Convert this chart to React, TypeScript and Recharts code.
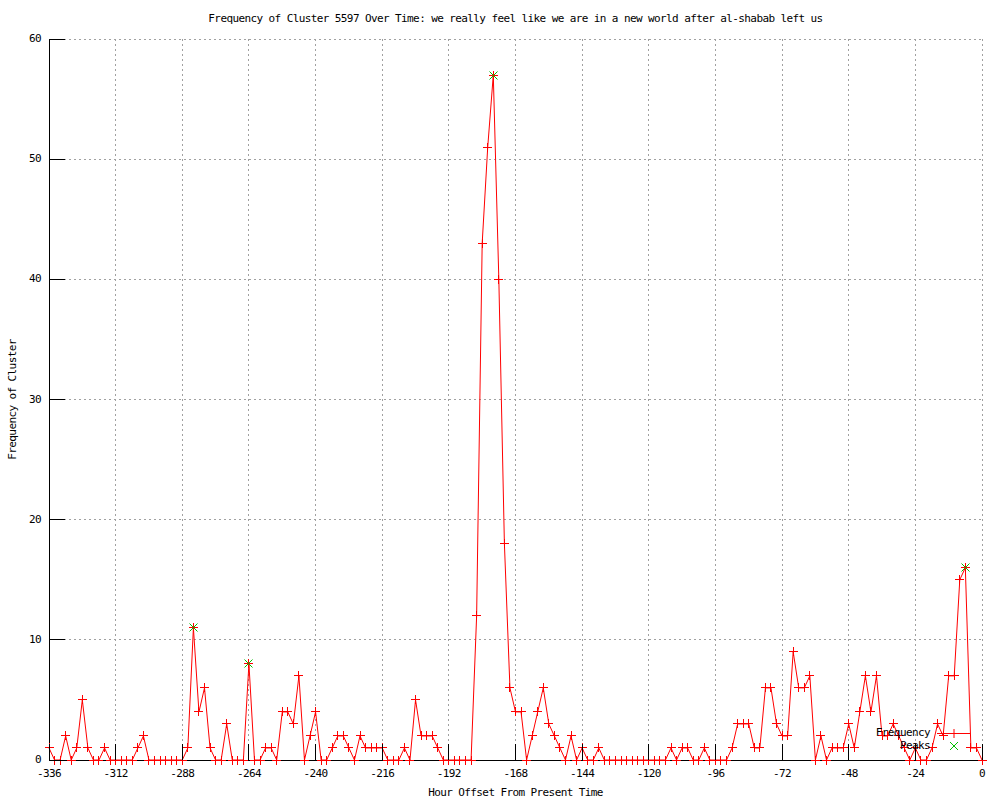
import React from "react";
import { LineChart, Line, XAxis, YAxis, CartesianGrid, Legend } from "recharts";

// hour offsets, one sample every 2 hours
const hours = [
  -336, -334, -332, -330, -328, -326, -324, -322, -320, -318, -316, -314,
  -312, -310, -308, -306, -304, -302, -300, -298, -296, -294, -292, -290,
  -288, -286, -284, -282, -280, -278, -276, -274, -272, -270, -268, -266,
  -264, -262, -260, -258, -256, -254, -252, -250, -248, -246, -244, -242,
  -240, -238, -236, -234, -232, -230, -228, -226, -224, -222, -220, -218,
  -216, -214, -212, -210, -208, -206, -204, -202, -200, -198, -196, -194,
  -192, -190, -188, -186, -184, -182, -180, -178, -176, -174, -172, -170,
  -168, -166, -164, -162, -160, -158, -156, -154, -152, -150, -148, -146,
  -144, -142, -140, -138, -136, -134, -132, -130, -128, -126, -124, -122,
  -120, -118, -116, -114, -112, -110, -108, -106, -104, -102, -100, -98,
  -96, -94, -92, -90, -88, -86, -84, -82, -80, -78, -76, -74,
  -72, -70, -68, -66, -64, -62, -60, -58, -56, -54, -52, -50,
  -48, -46, -44, -42, -40, -38, -36, -34, -32, -30, -28, -26,
  -24, -22, -20, -18, -16, -14, -12, -10, -8, -6, -4, -2,
  0,
];

const frequency = [
  1, 0, 0, 2, 0, 1, 5, 1, 0, 0, 1, 0,
  0, 0, 0, 0, 1, 2, 0, 0, 0, 0, 0, 0,
  0, 1, 11, 4, 6, 1, 0, 0, 3, 0, 0, 0,
  8, 0, 0, 1, 1, 0, 4, 4, 3, 7, 0, 2,
  4, 0, 0, 1, 2, 2, 1, 0, 2, 1, 1, 1,
  1, 0, 0, 0, 1, 0, 5, 2, 2, 2, 1, 0,
  0, 0, 0, 0, 0, 12, 43, 51, 57, 40, 18, 6,
  4, 4, 0, 2, 4, 6, 3, 2, 1, 0, 2, 0,
  1, 0, 0, 1, 0, 0, 0, 0, 0, 0, 0, 0,
  0, 0, 0, 0, 1, 0, 1, 1, 0, 0, 1, 0,
  0, 0, 0, 1, 3, 3, 3, 1, 1, 6, 6, 3,
  2, 2, 9, 6, 6, 7, 0, 2, 0, 1, 1, 1,
  3, 1, 4, 7, 4, 7, 2, 2, 3, 2, 1, 0,
  1, 0, 0, 1, 3, 2, 7, 7, 15, 16, 1, 1,
  0,
];

const peakHours = [-284, -264, -176, -6];
const peakValues = [11, 8, 57, 16];

const xTicks = [-336, -312, -288, -264, -240, -216, -192, -168, -144, -120, -96, -72, -48, -24, 0];
const yTicks = [0, 10, 20, 30, 40, 50, 60];

const FONT = '"DejaVu Sans Mono", "Liberation Mono", monospace';
const RED = "#ff0000";
const GREEN = "#00c000";
const TICK = 16;

const rows = hours.map((h, i) => {
  const p = peakHours.indexOf(h);
  return { hour: h, freq: frequency[i], peak: p >= 0 ? peakValues[p] : null };
});

const txt = { fontFamily: FONT, fontSize: 11, letterSpacing: "-0.6px", fill: "#000" };

// snap to pixel centre so 1px strokes stay solid
const snap = (v: number) => Math.round(v - 0.5) + 0.5;

const BottomTick = (props: any) => {
  const { x, y, payload } = props;
  return (
    <g>
      <line x1={x} y1={y} x2={x} y2={y - TICK} stroke="#000" />
      <text x={x} y={y + 14} textAnchor="middle" dominantBaseline="middle" style={txt}>
        {payload.value}
      </text>
    </g>
  );
};

const TopTick = (props: any) => {
  const { x, y } = props;
  return <line x1={x} y1={y} x2={x} y2={y + TICK} stroke="#000" />;
};

const LeftTick = (props: any) => {
  const { x, y, payload } = props;
  return (
    <g>
      <line x1={x} y1={y} x2={x + TICK} y2={y} stroke="#000" />
      <text x={x - 8} y={y} textAnchor="end" dominantBaseline="middle" style={txt}>
        {payload.value}
      </text>
    </g>
  );
};

const RightTick = (props: any) => {
  const { x, y } = props;
  return <line x1={x} y1={y} x2={x - TICK} y2={y} stroke="#000" />;
};

const plus = (props: any) => {
  const { cx, cy, index } = props;
  if (cx == null || cy == null) return <g key={`f-${index}`} />;
  const x = snap(cx);
  const y = snap(cy);
  return (
    <path
      key={`f-${index}`}
      d={`M${x - 4.5},${y}h9M${x},${y - 4.5}v9`}
      style={{ stroke: RED, strokeWidth: 1, fill: "none", shapeRendering: "crispEdges" }}
    />
  );
};

const cross = (props: any) => {
  const { cx, cy, index, value } = props;
  if (cx == null || cy == null || value == null) return <g key={`p-${index}`} />;
  const x = snap(cx);
  const y = snap(cy);
  return (
    <path
      key={`p-${index}`}
      d={`M${x - 4},${y - 4}l8,8M${x - 4},${y + 4}l8,-8`}
      style={{ stroke: GREEN, strokeWidth: 1, fill: "none" }}
    />
  );
};

const xLabel = (props: any) => {
  const vb = props.viewBox;
  return (
    <text x={vb.x + vb.width / 2} y={vb.y + 33} textAnchor="middle" dominantBaseline="middle" style={txt}>
      Hour Offset From Present Time
    </text>
  );
};

const yLabel = (props: any) => {
  const vb = props.viewBox;
  const cy = vb.y + vb.height / 2;
  return (
    <text x={13} y={cy} transform={`rotate(-90 13 ${cy})`} textAnchor="middle" dominantBaseline="middle" style={txt}>
      Frequency of Cluster
    </text>
  );
};

const LegendBox = () => (
  <svg width={125} height={30} style={{ display: "block", overflow: "visible" }}>
    <text x={70} y={9} textAnchor="end" dominantBaseline="middle" style={txt}>
      Frequency
    </text>
    <line x1={77} y1={9.5} x2={110} y2={9.5} stroke={RED} />
    <path d="M89.5,9.5h9M94,5v9" stroke={RED} fill="none" />
    <text x={70} y={22} textAnchor="end" dominantBaseline="middle" style={txt}>
      Peaks
    </text>
    <path d="M90,18l8,8M90,26l8,-8" stroke={GREEN} fill="none" />
  </svg>
);

export default function App() {
  return (
    <div style={{ position: "absolute", left: 0, top: 0, width: 1000, height: 800, background: "#fff" }}>
      <style>{`.recharts-surface line, .recharts-cartesian-grid path { shape-rendering: crispEdges; }`}</style>
      <div
        style={{
          position: "absolute",
          top: 13,
          left: 49,
          width: 933,
          textAlign: "center",
          fontFamily: FONT,
          fontSize: 11,
          letterSpacing: "-0.6px",
          lineHeight: "12px",
          zIndex: 2,
        }}
      >
        Frequency of Cluster 5597 Over Time: we really feel like we are in a new world after al-shabab left us
      </div>
      <LineChart width={1000} height={800} data={rows} margin={{ top: 39, right: 18, bottom: 0, left: 0 }}>
        <CartesianGrid stroke="#a0a0a0" strokeDasharray="2 3" />
        <XAxis
          dataKey="hour"
          type="number"
          domain={[-336, 0]}
          ticks={xTicks}
          height={40}
          tickSize={0}
          tickMargin={0}
          tickLine={false}
          axisLine={{ stroke: "#000" }}
          tick={<BottomTick />}
          interval={0}
          label={xLabel}
        />
        <XAxis
          xAxisId="top"
          dataKey="hour"
          type="number"
          orientation="top"
          domain={[-336, 0]}
          ticks={xTicks}
          height={0}
          tickSize={0}
          tickMargin={0}
          tickLine={false}
          axisLine={{ stroke: "#000" }}
          tick={<TopTick />}
          interval={0}
        />
        <YAxis
          type="number"
          domain={[0, 60]}
          ticks={yTicks}
          width={49}
          tickSize={0}
          tickMargin={0}
          tickLine={false}
          axisLine={{ stroke: "#000" }}
          tick={<LeftTick />}
          interval={0}
          label={yLabel}
        />
        <YAxis
          yAxisId="right"
          orientation="right"
          type="number"
          domain={[0, 60]}
          ticks={yTicks}
          width={0}
          tickSize={0}
          tickMargin={0}
          tickLine={false}
          axisLine={{ stroke: "#000" }}
          tick={<RightTick />}
          interval={0}
        />
        <Line
          dataKey="freq"
          type="linear"
          stroke={RED}
          strokeWidth={1}
          dot={plus}
          activeDot={false}
          isAnimationActive={false}
        />
        <Line
          dataKey="peak"
          type="linear"
          stroke="none"
          dot={cross}
          activeDot={false}
          isAnimationActive={false}
        />
        <Legend
          layout="horizontal"
          verticalAlign="middle"
          align="center"
          wrapperStyle={{ left: 860, top: 724, right: "auto", bottom: "auto", width: 125, height: 30 }}
          content={() => <LegendBox />}
        />
      </LineChart>
    </div>
  );
}
